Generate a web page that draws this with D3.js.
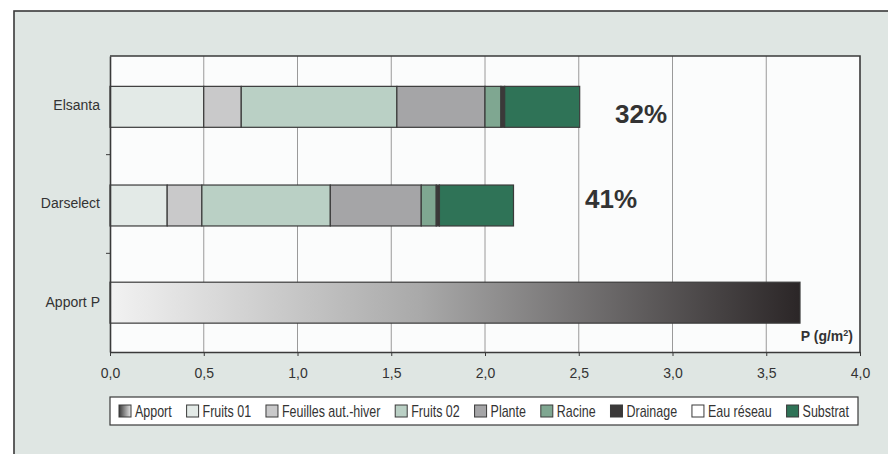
<!DOCTYPE html>
<html>
<head>
<meta charset="utf-8">
<script src="https://cdn.jsdelivr.net/npm/d3@7"></script>
<style>
  html, body { margin: 0; padding: 0; background: #ffffff; }
  svg { display: block; }
  text { font-family: "Liberation Sans", Arial, sans-serif; fill: #333333; }
</style>
</head>
<body>
<svg id="chart" width="888" height="454"></svg>
<script>
// Phosphorus balance per variety (g/m²)
const categories = ["Elsanta", "Darselect", "Apport P"];
const components = ["Fruits 01", "Feuilles aut.-hiver", "Fruits 02", "Plante", "Racine", "Drainage", "Eau réseau", "Substrat"];
const elsanta   = [0.50, 0.20, 0.83, 0.47, 0.085, 0.02, 0, 0.40];
const darselect = [0.305, 0.185, 0.685, 0.485, 0.08, 0.017, 0, 0.395];
const apportP = 3.68;
const shares = ["32%", "41%"];
const xTicks = [0, 0.5, 1, 1.5, 2, 2.5, 3, 3.5, 4];
const legendLabels = ["Apport", "Fruits 01", "Feuilles aut.-hiver", "Fruits 02", "Plante", "Racine", "Drainage", "Eau réseau", "Substrat"];
const componentColors = ["#e3eae7", "#c9c9ca", "#bad0c5", "#a5a5a7", "#7fa791", "#3b3939", "#ffffff", "#2f7357"];

const svg = d3.select("#chart");
const defs = svg.append("defs");

const grad = defs.append("linearGradient").attr("id", "apportGrad")
  .attr("x1", "0%").attr("x2", "100%").attr("y1", "0%").attr("y2", "0%");
grad.append("stop").attr("offset", "0%").attr("stop-color", "#f2f2f2");
grad.append("stop").attr("offset", "45%").attr("stop-color", "#a9a9a9");
grad.append("stop").attr("offset", "100%").attr("stop-color", "#2b2627");

const gradSw = defs.append("linearGradient").attr("id", "apportSwatch")
  .attr("x1", "0%").attr("x2", "100%").attr("y1", "0%").attr("y2", "0%");
gradSw.append("stop").attr("offset", "0%").attr("stop-color", "#3a3a3a");
gradSw.append("stop").attr("offset", "100%").attr("stop-color", "#e6e6e6");

// outer panel
svg.append("rect").attr("x", 14).attr("y", 11).attr("width", 900).attr("height", 470)
  .attr("fill", "#dfe6e3").attr("stroke", "#3a3a3a").attr("stroke-width", 1.6);

const plot = { left: 110, right: 860, top: 56, bottom: 352 };
const x = d3.scaleLinear().domain([0, 4]).range([plot.left, plot.right]);
const y = d3.scaleBand().domain(categories).range([plot.top, plot.bottom]).padding(0);
const barH = y.bandwidth() * 0.415;
const barY = c => y(c) + (y.bandwidth() - barH) / 2 + (c === "Apport P" ? 0 : 1.5);

// plot background
svg.append("rect").attr("x", plot.left).attr("y", plot.top)
  .attr("width", plot.right - plot.left).attr("height", plot.bottom - plot.top)
  .attr("fill", "#fbfcfc");

// vertical gridlines
svg.append("g").selectAll("line").data(xTicks.slice(1, -1)).join("line")
  .attr("x1", d => x(d)).attr("x2", d => x(d))
  .attr("y1", plot.top).attr("y2", plot.bottom)
  .attr("stroke", "#8f8f8f").attr("stroke-width", 0.9);

// stacked bars
const rows = [["Elsanta", elsanta], ["Darselect", darselect]];
rows.forEach(([cat, vals]) => {
  let acc = 0;
  const segs = vals.map((v, i) => { const s = { x0: acc, x1: acc + v, i }; acc += v; return s; })
    .filter(s => s.x1 > s.x0);
  svg.append("g").selectAll("rect").data(segs).join("rect")
    .attr("x", s => x(s.x0)).attr("width", s => x(s.x1) - x(s.x0))
    .attr("y", barY(cat)).attr("height", barH)
    .attr("fill", s => componentColors[s.i])
    .attr("stroke", "#3a3a3a").attr("stroke-width", 1.2);
});

// input bar
svg.append("rect").attr("x", x(0)).attr("width", x(apportP) - x(0))
  .attr("y", barY("Apport P")).attr("height", barH)
  .attr("fill", "url(#apportGrad)").attr("stroke", "#3a3a3a").attr("stroke-width", 1.2);

// plot frame: top and right borders
svg.append("path")
  .attr("d", `M${plot.left},${plot.top}H${plot.right}V${plot.bottom}`)
  .attr("fill", "none").attr("stroke", "#3a3a3a").attr("stroke-width", 1.6);

// x axis
const fmt = v => d3.format(".1f")(v).replace(".", ",");
const xAxis = svg.append("g").attr("transform", `translate(0,${plot.bottom})`)
  .call(d3.axisBottom(x).tickValues(xTicks).tickFormat(fmt).tickSize(4).tickSizeOuter(0).tickPadding(12));
xAxis.select(".domain").attr("stroke", "#3a3a3a").attr("stroke-width", 1.6);
xAxis.selectAll(".tick line").attr("stroke", "#3a3a3a");
xAxis.selectAll("text").style("font-size", "14px").attr("fill", "#444");

// y axis
const yAxis = svg.append("g").attr("transform", `translate(${plot.left},0)`)
  .call(d3.axisLeft(y).tickSize(0).tickPadding(10));
yAxis.select(".domain").attr("stroke", "#3a3a3a").attr("stroke-width", 1.6);
yAxis.selectAll("text").style("font-size", "14px").attr("fill", "#444");
// category boundary ticks
svg.append("g").selectAll("line").data(categories.slice(1)).join("line")
  .attr("x1", plot.left - 4).attr("x2", plot.left)
  .attr("y1", d => y(d)).attr("y2", d => y(d))
  .attr("stroke", "#3a3a3a");

// unit label
const unit = svg.append("text").attr("x", 853).attr("y", 341)
  .attr("text-anchor", "end").style("font-size", "14px").style("font-weight", "bold").attr("fill", "#333");
unit.append("tspan").text("P (g/m");
unit.append("tspan").text("2").attr("dy", -5).style("font-size", "9px");
unit.append("tspan").text(")").attr("dy", 5);

// share labels
svg.append("text").attr("x", 641).attr("y", 123).attr("text-anchor", "middle")
  .style("font-size", "26px").style("font-weight", "bold").attr("fill", "#333").text(shares[0]);
svg.append("text").attr("x", 611).attr("y", 208).attr("text-anchor", "middle")
  .style("font-size", "26px").style("font-weight", "bold").attr("fill", "#333").text(shares[1]);

// legend
const legBox = { x: 110, y: 397, w: 748, h: 28 };
svg.append("rect").attr("x", legBox.x).attr("y", legBox.y).attr("width", legBox.w).attr("height", legBox.h)
  .attr("fill", "#ffffff").attr("stroke", "#3a3a3a").attr("stroke-width", 1.2);
const legend = svg.append("g");
const legendFills = ["url(#apportSwatch)", ...componentColors];
const sw = 12, gapSwatchText = 4, squeeze = 0.78, inset = 9;
const items = legendLabels.map((lab, i) => {
  const g = legend.append("g");
  g.append("rect").attr("width", sw).attr("height", sw).attr("y", -sw / 2)
    .attr("fill", legendFills[i]).attr("stroke", "#3a3a3a").attr("stroke-width", 1);
  const t = g.append("text")
    .attr("transform", `translate(${sw + gapSwatchText},0) scale(${squeeze},1)`)
    .attr("dy", "0.36em")
    .style("font-size", "16px").attr("fill", "#1a1a1a").text(lab);
  return { g, w: sw + gapSwatchText + t.node().getComputedTextLength() * squeeze };
});
// spread the items evenly across the legend box
const span = legBox.w - 2 * inset;
const gap = (span - d3.sum(items, d => d.w)) / (items.length - 1);
let cx = legBox.x + inset;
items.forEach(it => {
  it.g.attr("transform", `translate(${cx},${legBox.y + legBox.h / 2})`);
  cx += it.w + gap;
});
</script>
</body>
</html>
